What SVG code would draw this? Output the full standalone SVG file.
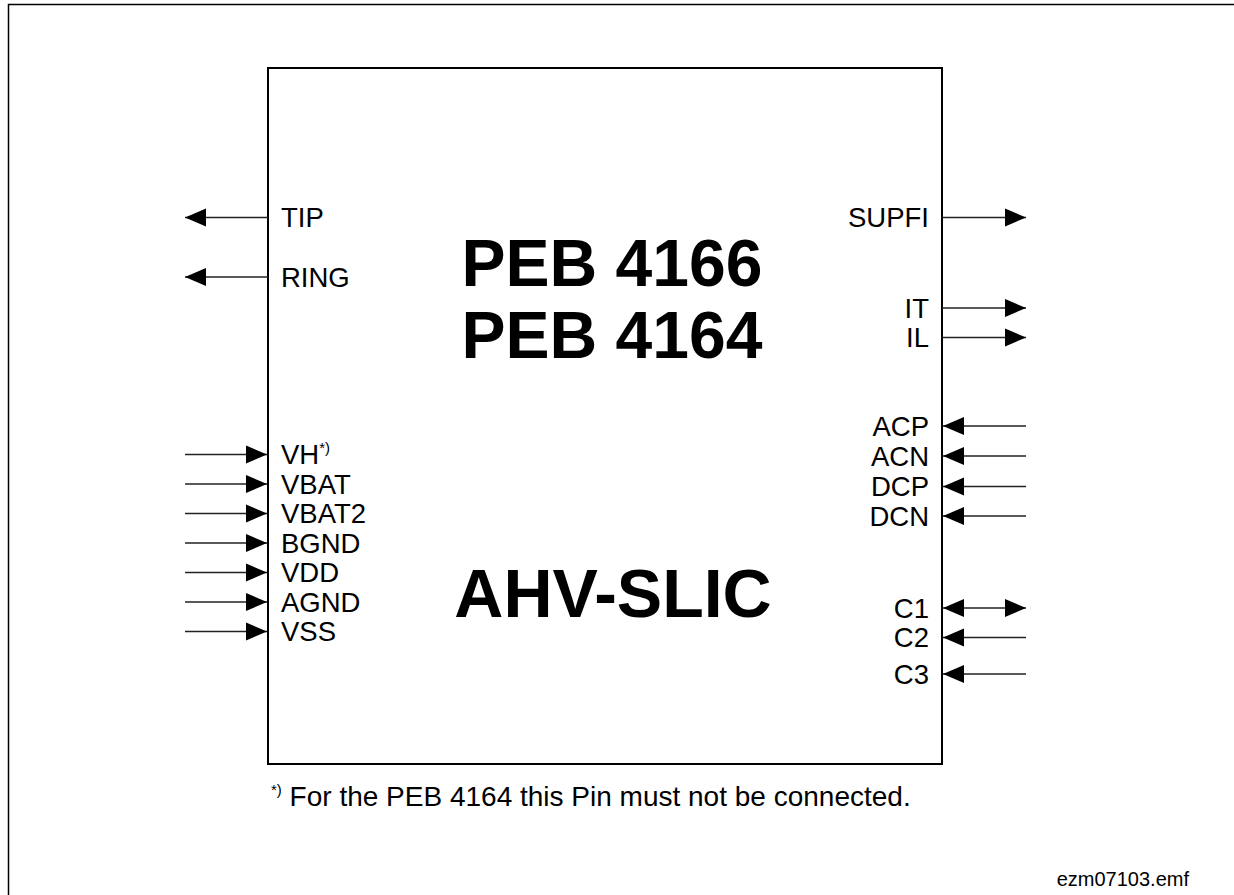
<svg xmlns="http://www.w3.org/2000/svg" width="1234" height="895" viewBox="0 0 1234 895">
<style>
.lbl{font-family:"Liberation Sans",Arial,sans-serif;font-size:27.5px;fill:#000}
.r{text-anchor:end}
.big{font-family:"Liberation Sans",Arial,sans-serif;font-size:66px;font-weight:bold;fill:#000;text-anchor:middle}
.sup{font-size:15px}
.wire{stroke:#222;stroke-width:1.3;fill:none}
</style>
<defs>
<marker id="ah" markerUnits="userSpaceOnUse" markerWidth="23" markerHeight="20" refX="22" refY="10" orient="auto-start-reverse">
<path d="M1,1 L22,10 L1,19 Z" fill="#000"/>
</marker>
</defs>
<rect x="8.5" y="4.5" width="1300" height="950" fill="none" stroke="#000" stroke-width="1.5"/>
<g id="chip">
<rect x="268" y="68" width="674" height="696" fill="none" stroke="#000" stroke-width="2"/>
<text class="big" x="612" y="286">PEB 4166</text>
<text class="big" x="612" y="358">PEB 4164</text>
<text class="big" x="613" y="617" style="font-size:68px">AHV-SLIC</text>
</g>
<g id="connectors">
<line class="wire" x1="268" y1="217.5" x2="185" y2="217.5" marker-end="url(#ah)"/>
<line class="wire" x1="268" y1="277" x2="185" y2="277" marker-end="url(#ah)"/>
<line class="wire" x1="185" y1="454.5" x2="267" y2="454.5" marker-end="url(#ah)"/>
<line class="wire" x1="185" y1="484" x2="267" y2="484" marker-end="url(#ah)"/>
<line class="wire" x1="185" y1="513.5" x2="267" y2="513.5" marker-end="url(#ah)"/>
<line class="wire" x1="185" y1="543" x2="267" y2="543" marker-end="url(#ah)"/>
<line class="wire" x1="185" y1="572.5" x2="267" y2="572.5" marker-end="url(#ah)"/>
<line class="wire" x1="185" y1="602" x2="267" y2="602" marker-end="url(#ah)"/>
<line class="wire" x1="185" y1="631.5" x2="267" y2="631.5" marker-end="url(#ah)"/>
<line class="wire" x1="942" y1="217.5" x2="1026" y2="217.5" marker-end="url(#ah)"/>
<line class="wire" x1="942" y1="308" x2="1026" y2="308" marker-end="url(#ah)"/>
<line class="wire" x1="942" y1="337.5" x2="1026" y2="337.5" marker-end="url(#ah)"/>
<line class="wire" x1="1026" y1="426" x2="943" y2="426" marker-end="url(#ah)"/>
<line class="wire" x1="1026" y1="456" x2="943" y2="456" marker-end="url(#ah)"/>
<line class="wire" x1="1026" y1="486.5" x2="943" y2="486.5" marker-end="url(#ah)"/>
<line class="wire" x1="1026" y1="516" x2="943" y2="516" marker-end="url(#ah)"/>
<line class="wire" x1="943" y1="608" x2="1026" y2="608" marker-start="url(#ah)" marker-end="url(#ah)"/>
<line class="wire" x1="1026" y1="637.5" x2="943" y2="637.5" marker-end="url(#ah)"/>
<line class="wire" x1="1026" y1="674" x2="943" y2="674" marker-end="url(#ah)"/>
</g>
<g id="pin-TIP"><text class="lbl" x="281" y="227">TIP</text></g>
<g id="pin-RING"><text class="lbl" x="281" y="286.5">RING</text></g>
<g id="pin-VH"><text class="lbl" x="281" y="464">VH<tspan class="sup" dy="-11">*)</tspan></text></g>
<g id="pin-VBAT"><text class="lbl" x="281" y="493.5">VBAT</text></g>
<g id="pin-VBAT2"><text class="lbl" x="281" y="523">VBAT2</text></g>
<g id="pin-BGND"><text class="lbl" x="281" y="552.5">BGND</text></g>
<g id="pin-VDD"><text class="lbl" x="281" y="582">VDD</text></g>
<g id="pin-AGND"><text class="lbl" x="281" y="611.5">AGND</text></g>
<g id="pin-VSS"><text class="lbl" x="281" y="641">VSS</text></g>
<g id="pin-SUPFI"><text class="lbl r" x="929" y="227">SUPFI</text></g>
<g id="pin-IT"><text class="lbl r" x="929" y="317.5">IT</text></g>
<g id="pin-IL"><text class="lbl r" x="929" y="347">IL</text></g>
<g id="pin-ACP"><text class="lbl r" x="929" y="435.5">ACP</text></g>
<g id="pin-ACN"><text class="lbl r" x="929" y="465.5">ACN</text></g>
<g id="pin-DCP"><text class="lbl r" x="929" y="496">DCP</text></g>
<g id="pin-DCN"><text class="lbl r" x="929" y="525.5">DCN</text></g>
<g id="pin-C1"><text class="lbl r" x="929" y="617.5">C1</text></g>
<g id="pin-C2"><text class="lbl r" x="929" y="647">C2</text></g>
<g id="pin-C3"><text class="lbl r" x="929" y="683.5">C3</text></g>
<g id="footnote"><text class="lbl" x="271" y="806" style="font-size:28px"><tspan class="sup" dy="-11">*)</tspan><tspan dy="11"> For the PEB 4164 this Pin must not be connected.</tspan></text></g>
<g id="filename"><text class="lbl r" x="1189" y="886" style="font-size:20px">ezm07103.emf</text></g>
</svg>
